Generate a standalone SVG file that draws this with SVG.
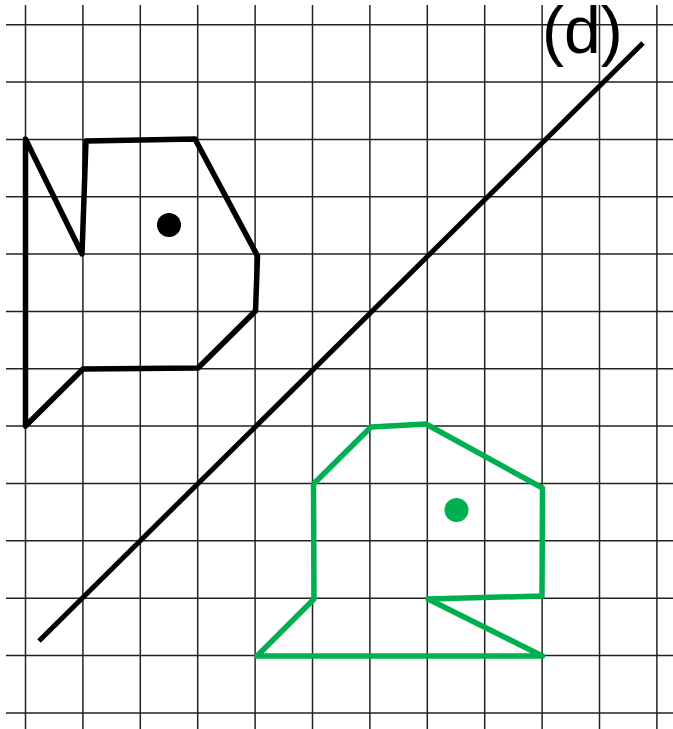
<svg xmlns="http://www.w3.org/2000/svg" width="673" height="729" viewBox="0 0 673 729">
<style>
.grid line{stroke:#222;stroke-width:1.5}
.blk{fill:none;stroke:#000;stroke-width:5.5;stroke-linejoin:round;stroke-linecap:round}
.grn{fill:none;stroke:#00B050;stroke-width:5.5;stroke-linejoin:round;stroke-linecap:round}
.lbl{font-family:"Liberation Sans",Arial,sans-serif;font-size:66px;fill:#000}
</style>
<rect width="673" height="729" fill="#fff"/>
<g id="grid" class="grid">
<line x1="25.5" y1="5" x2="25.5" y2="729"/>
<line x1="82.9" y1="5" x2="82.9" y2="729"/>
<line x1="140.3" y1="5" x2="140.3" y2="729"/>
<line x1="197.7" y1="5" x2="197.7" y2="729"/>
<line x1="255.1" y1="5" x2="255.1" y2="729"/>
<line x1="312.5" y1="5" x2="312.5" y2="729"/>
<line x1="369.9" y1="5" x2="369.9" y2="729"/>
<line x1="427.3" y1="5" x2="427.3" y2="729"/>
<line x1="484.7" y1="5" x2="484.7" y2="729"/>
<line x1="542.1" y1="5" x2="542.1" y2="729"/>
<line x1="599.5" y1="5" x2="599.5" y2="729"/>
<line x1="656.9" y1="5" x2="656.9" y2="729"/>
<line x1="6" y1="24.7" x2="673" y2="24.7"/>
<line x1="6" y1="82" x2="673" y2="82"/>
<line x1="6" y1="139.4" x2="673" y2="139.4"/>
<line x1="6" y1="196.7" x2="673" y2="196.7"/>
<line x1="6" y1="254.1" x2="673" y2="254.1"/>
<line x1="6" y1="311.4" x2="673" y2="311.4"/>
<line x1="6" y1="368.8" x2="673" y2="368.8"/>
<line x1="6" y1="426.1" x2="673" y2="426.1"/>
<line x1="6" y1="483.5" x2="673" y2="483.5"/>
<line x1="6" y1="540.8" x2="673" y2="540.8"/>
<line x1="6" y1="598.2" x2="673" y2="598.2"/>
<line x1="6" y1="655.5" x2="673" y2="655.5"/>
<line x1="6" y1="712.9" x2="673" y2="712.9"/>
</g>
<g id="mirror-line">
<line x1="39" y1="641" x2="643" y2="43" stroke="#000" stroke-width="5"/>
</g>
<g id="label-d">
<text class="lbl" x="542" y="53">(d)</text>
</g>
<g id="black-shape">
<polygon class="blk" points="25.5,139 82,254 86,141 195,139 257.5,256 255.5,311 198,368 83,369 25.5,426"/>
<circle cx="169" cy="225" r="12" fill="#000"/>
</g>
<g id="green-shape">
<polygon class="grn" points="313.5,484 371,427 426,424 542.5,488 542,596 428,599 542.5,656 257,656 314,599"/>
<circle cx="456.5" cy="510" r="12" fill="#00B050"/>
</g>
</svg>
